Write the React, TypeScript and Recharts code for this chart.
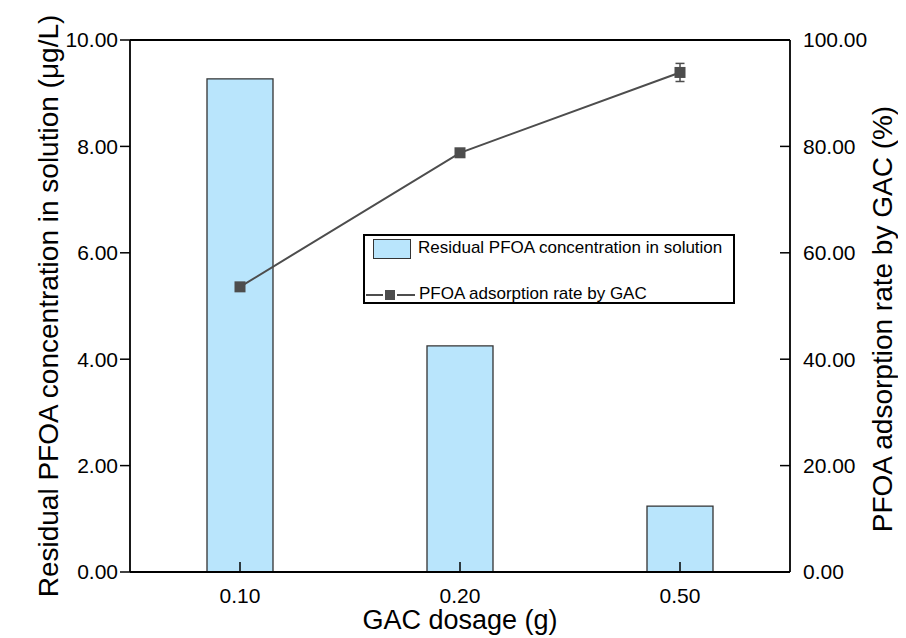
import React from "react";
import { ComposedChart, Bar, Line, XAxis, YAxis, ErrorBar, ReferenceLine, Legend } from "recharts";

// ── Data ───────────────────────────────────────────────────────────────────

const dosages = ["0.10", "0.20", "0.50"];
const residual = [9.27, 4.25, 1.24]; // µg/L
const adsorption = [53.6, 78.8, 93.9]; // %
const adsorptionErr = [0.3, 0.3, 1.7];

const leftTicks = [0, 2, 4, 6, 8, 10];
const leftMinor = [1, 3, 5, 7, 9];
const rightTicks = [0, 20, 40, 60, 80, 100];
const rightMinor = [10, 30, 50, 70, 90];
const xMinor = [1, 2];

const BAR_NAME = "Residual PFOA concentration in solution";
const LINE_NAME = "PFOA adsorption rate by GAC";

const data = dosages.map((d, i) => ({
  dosage: d,
  residual: residual[i],
  rate: adsorption[i],
  err: adsorptionErr[i],
}));

const FONT = "'Liberation Sans', Arial, sans-serif";
const AXIS = "#000";
const BAR_FILL = "#b9e5fc";
const BAR_STROKE = "#333";
const LINE_COLOR = "#4d4d4d";

// ── Axis title rendered from the axis viewBox ──────────────────────────────

function AxisTitle(props: any) {
  const { viewBox, text, shiftX = 0, shiftY = 0, rotate = 0, size = 27 } = props;
  const cx = viewBox.x + viewBox.width / 2 + shiftX;
  const cy = viewBox.y + viewBox.height / 2 + shiftY;
  return (
    <text
      x={cx}
      y={cy}
      transform={rotate ? `rotate(${rotate}, ${cx}, ${cy})` : undefined}
      textAnchor="middle"
      dominantBaseline="central"
      fontSize={size}
      fontFamily={FONT}
      fill="#000"
    >
      {text}
    </text>
  );
}

function SquareDot(props: any) {
  const { cx, cy, index } = props;
  if (cx == null || cy == null) return null;
  return <rect key={`dot-${index}`} x={cx - 5.5} y={cy - 5.5} width={11} height={11} fill={LINE_COLOR} />;
}

function LegendBox() {
  return (
    <div
      style={{
        width: 372,
        height: 70,
        boxSizing: "border-box",
        border: "2px solid #000",
        background: "#fff",
        position: "relative",
        fontFamily: FONT,
        fontSize: 17,
        color: "#000",
      }}
    >
      <div
        style={{
          position: "absolute",
          left: 8,
          top: 3,
          width: 38,
          height: 20,
          boxSizing: "border-box",
          background: BAR_FILL,
          border: `1.3px solid ${BAR_STROKE}`,
        }}
      />
      <div style={{ position: "absolute", left: 53, top: 12, lineHeight: "0px", whiteSpace: "nowrap" }}>{BAR_NAME}</div>
      <svg style={{ position: "absolute", left: 0, top: 51 }} width={52} height={16}>
        <line x1={1} x2={18} y1={8} y2={8} stroke={LINE_COLOR} strokeWidth={2} />
        <line x1={32} x2={50} y1={8} y2={8} stroke={LINE_COLOR} strokeWidth={2} />
        <rect x={20} y={3} width={10} height={10} fill={LINE_COLOR} />
      </svg>
      <div style={{ position: "absolute", left: 54, top: 58, lineHeight: "0px", whiteSpace: "nowrap" }}>{LINE_NAME}</div>
    </div>
  );
}

export default function App() {
  const tickStyle = { fontSize: 21, fill: "#000", fontFamily: FONT };
  const axisLine = { stroke: AXIS, strokeWidth: 1.8 };
  const tickLine = { stroke: AXIS, strokeWidth: 1.5 };

  return (
    <div style={{ width: 890, height: 630, fontFamily: FONT }}>
      <ComposedChart width={890} height={630} data={data} margin={{ top: 32, right: 7, bottom: 15, left: 21 }}>
        {/* minor ticks first so the main axes sit on the plot edge */}
        <XAxis
          xAxisId="minor"
          type="number"
          domain={[0, 3]}
          ticks={xMinor}
          height={1}
          tick={false}
          tickSize={-6}
          axisLine={false}
          tickLine={tickLine}
        />
        <XAxis
          xAxisId="cat"
          dataKey="dosage"
          height={50}
          tick={tickStyle}
          tickSize={-10}
          tickMargin={26}
          axisLine={axisLine}
          tickLine={tickLine}
          label={<AxisTitle text="GAC dosage (g)" shiftY={23} />}
        />
        <YAxis
          yAxisId="lminor"
          domain={[0, 10]}
          ticks={leftMinor}
          width={1}
          tick={false}
          tickSize={5}
          axisLine={false}
          tickLine={tickLine}
        />
        <YAxis
          yAxisId="left"
          domain={[0, 10]}
          ticks={leftTicks}
          width={100}
          tick={tickStyle}
          tickFormatter={(v: number) => v.toFixed(2)}
          tickSize={10}
          tickMargin={2}
          axisLine={axisLine}
          tickLine={tickLine}
          label={<AxisTitle text="Residual PFOA concentration in solution (μg/L)" rotate={-90} shiftX={-32} size={28} />}
        />
        <YAxis
          yAxisId="rminor"
          orientation="right"
          domain={[0, 100]}
          ticks={rightMinor}
          width={1}
          tick={false}
          tickSize={-5}
          axisLine={false}
          tickLine={tickLine}
        />
        <YAxis
          yAxisId="right"
          orientation="right"
          domain={[0, 100]}
          ticks={rightTicks}
          width={100}
          tick={tickStyle}
          tickFormatter={(v: number) => v.toFixed(2)}
          tickSize={-10}
          tickMargin={23}
          axisLine={axisLine}
          tickLine={tickLine}
          label={<AxisTitle text="PFOA adsorption rate by GAC (%)" rotate={-90} shiftX={42} shiftY={13} size={28} />}
        />
        <ReferenceLine xAxisId="cat" yAxisId="left" y={10} stroke={AXIS} strokeWidth={1.8} />
        <Bar
          xAxisId="cat"
          yAxisId="left"
          dataKey="residual"
          name={BAR_NAME}
          barSize={66}
          fill={BAR_FILL}
          stroke={BAR_STROKE}
          strokeWidth={1.3}
          isAnimationActive={false}
        />
        <Line
          xAxisId="cat"
          yAxisId="right"
          dataKey="rate"
          name={LINE_NAME}
          stroke={LINE_COLOR}
          strokeWidth={2}
          dot={SquareDot}
          activeDot={false}
          isAnimationActive={false}
        >
          <ErrorBar dataKey="err" width={4.5} stroke={LINE_COLOR} strokeWidth={1.5} direction="y" />
        </Line>
        <Legend
          layout="horizontal"
          verticalAlign="middle"
          align="center"
          content={() => <LegendBox />}
          wrapperStyle={{ position: "absolute", left: 355, top: 226, width: 372, height: 70 }}
        />
      </ComposedChart>
    </div>
  );
}
